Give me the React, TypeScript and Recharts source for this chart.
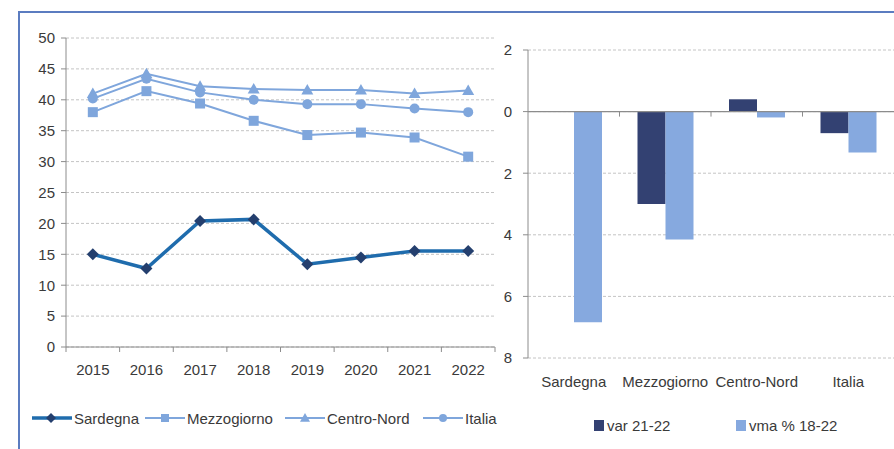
import React from "react";
import { Bar, BarChart, CartesianGrid, Line, LineChart, ReferenceLine, XAxis, YAxis } from "recharts";

const years = ["2015", "2016", "2017", "2018", "2019", "2020", "2021", "2022"];
const sardegna = [15.0, 12.7, 20.4, 20.65, 13.4, 14.5, 15.55, 15.55];
const mezzogiorno = [38.0, 41.4, 39.4, 36.6, 34.3, 34.7, 33.9, 30.8];
const centroNord = [41.0, 44.2, 42.2, 41.75, 41.6, 41.6, 41.0, 41.5];
const italia = [40.2, 43.4, 41.2, 40.0, 39.3, 39.3, 38.6, 38.0];
const leftTicks = [0, 5, 10, 15, 20, 25, 30, 35, 40, 45, 50];

const regions = ["Sardegna", "Mezzogiorno", "Centro-Nord", "Italia"];
const var2122 = [0, -3.0, 0.4, -0.7];
const vma1822 = [-6.84, -4.15, -0.19, -1.33];
const rightTicks = [2, 0, -2, -4, -6, -8];

const FONT = "'Liberation Sans', Arial, sans-serif";
const TEXT = "#3a3a3a";
const GRID = "#c4c4c4";
const AXIS = "#8c8c8c";
const DARK_LINE = "#1f6cad";
const DARK_MARK = "#243f6e";
const LIGHT = "#7fa6dc";
const BAR_DARK = "#334172";
const BAR_LIGHT = "#86a9df";

// left chart layout
const L_W = 510;
const L_H = 449;
const L_LEFT = 66;
const L_RIGHT = 15;
const L_TOP = 38;
const L_XH = 30;
const L_BOTTOM = 72;
const L_AXIS_Y = L_H - L_BOTTOM - L_XH;
const L_BAND = (L_W - L_LEFT - L_RIGHT) / years.length;

// right chart layout
const R_X = 470;
const R_W = 424;
const R_H = 449;
const R_YW = 58;
const R_TOP = 50;
const R_XH = 40;
const R_BOTTOM = 51;
const R_PLOT_H = R_H - R_TOP - R_XH - R_BOTTOM;
const R_BAND = (R_W - R_YW) / regions.length;
const R_ZERO_Y = R_TOP + (2 / 10) * R_PLOT_H;

const lineData = years.map((y, i) => ({
  year: y,
  sardegna: sardegna[i],
  mezzogiorno: mezzogiorno[i],
  centroNord: centroNord[i],
  italia: italia[i],
}));

const barData = regions.map((r, i) => ({ region: r, var2122: var2122[i], vma1822: vma1822[i] }));

function Diamond({ cx, cy, fill, size = 6 }: any) {
  if (cx == null || cy == null) return null;
  return <path d={`M${cx},${cy - size}L${cx + size},${cy}L${cx},${cy + size}L${cx - size},${cy}Z`} fill={fill} />;
}
function Square({ cx, cy, fill, size = 5 }: any) {
  if (cx == null || cy == null) return null;
  return <rect x={cx - size} y={cy - size} width={size * 2} height={size * 2} fill={fill} />;
}
function Triangle({ cx, cy, fill, size = 6 }: any) {
  if (cx == null || cy == null) return null;
  return <path d={`M${cx},${cy - size}L${cx + size},${cy + size * 0.75}L${cx - size},${cy + size * 0.75}Z`} fill={fill} />;
}
function Circle({ cx, cy, fill, size = 5 }: any) {
  if (cx == null || cy == null) return null;
  return <circle cx={cx} cy={cy} r={size} fill={fill} />;
}

function YearTick({ x, payload, index }: any) {
  const last = index === years.length - 1;
  return (
    <g>
      <line x1={x - L_BAND / 2} x2={x - L_BAND / 2} y1={L_AXIS_Y} y2={L_AXIS_Y + 5} stroke={AXIS} />
      {last ? <line x1={x + L_BAND / 2} x2={x + L_BAND / 2} y1={L_AXIS_Y} y2={L_AXIS_Y + 5} stroke={AXIS} /> : null}
      <text x={x} y={375} textAnchor="middle" fill={TEXT} fontSize={15} fontFamily={FONT}>
        {payload.value}
      </text>
    </g>
  );
}

function RegionTick({ x, payload, index }: any) {
  return (
    <g>
      {index > 0 ? (
        <line x1={x - R_BAND / 2} x2={x - R_BAND / 2} y1={R_ZERO_Y} y2={R_ZERO_Y + 5} stroke={AXIS} />
      ) : null}
      <text x={x} y={387} textAnchor="middle" fill={TEXT} fontSize={15} fontFamily={FONT}>
        {payload.value}
      </text>
    </g>
  );
}

function LegendLine({ x, label, color, width, marker }: any) {
  return (
    <div style={{ position: "absolute", left: x, top: 408, height: 20, display: "flex", alignItems: "center" }}>
      <svg width={40} height={20}>
        <line x1={0} x2={40} y1={10} y2={10} stroke={color} strokeWidth={width} />
        {marker}
      </svg>
      <span style={{ marginLeft: 2, fontSize: 15, color: TEXT, fontFamily: FONT }}>{label}</span>
    </div>
  );
}

export default function App() {
  return (
    <div style={{ position: "absolute", left: 0, top: 0, width: 894, height: 449, background: "#fff", overflow: "hidden", fontFamily: FONT }}>
      <div style={{ position: "absolute", left: 18, top: 11, width: 876, height: 2, background: "#5b7cc0" }} />
      <div style={{ position: "absolute", left: 18, top: 11, width: 2, height: 438, background: "#5b7cc0" }} />

      <div style={{ position: "absolute", left: 0, top: 0 }}>
        <LineChart width={L_W} height={L_H} data={lineData} margin={{ top: L_TOP, right: L_RIGHT, left: 0, bottom: L_BOTTOM }}>
          <CartesianGrid stroke={GRID} strokeDasharray="3 2" vertical={false} />
          <XAxis
            dataKey="year"
            scale="band"
            height={L_XH}
            stroke={AXIS}
            tickLine={false}
            interval={0}
            tick={<YearTick />}
          />
          <YAxis
            width={L_LEFT}
            domain={[0, 50]}
            ticks={leftTicks}
            interval={0}
            stroke={AXIS}
            tickSize={5}
            tickMargin={6}
            tick={{ fill: TEXT, fontSize: 15, fontFamily: FONT }}
          />
          <Line dataKey="mezzogiorno" stroke={LIGHT} strokeWidth={2} isAnimationActive={false}
            dot={(p: any) => <Square key={`m${p.index}`} cx={p.cx} cy={p.cy} fill={LIGHT} />} />
          <Line dataKey="centroNord" stroke={LIGHT} strokeWidth={2} isAnimationActive={false}
            dot={(p: any) => <Triangle key={`c${p.index}`} cx={p.cx} cy={p.cy} fill={LIGHT} />} />
          <Line dataKey="italia" stroke={LIGHT} strokeWidth={2} isAnimationActive={false}
            dot={(p: any) => <Circle key={`i${p.index}`} cx={p.cx} cy={p.cy} fill={LIGHT} />} />
          <Line dataKey="sardegna" stroke={DARK_LINE} strokeWidth={3.5} isAnimationActive={false}
            dot={(p: any) => <Diamond key={`s${p.index}`} cx={p.cx} cy={p.cy} fill={DARK_MARK} />} />
        </LineChart>
      </div>

      <LegendLine x={32} label="Sardegna" color={DARK_LINE} width={3.5} marker={<Diamond cx={19} cy={10} fill={DARK_MARK} size={5} />} />
      <LegendLine x={145} label="Mezzogiorno" color={LIGHT} width={2} marker={<Square cx={20} cy={10} fill={LIGHT} size={4} />} />
      <LegendLine x={285} label="Centro-Nord" color={LIGHT} width={2} marker={<Triangle cx={20} cy={10} fill={LIGHT} size={5} />} />
      <LegendLine x={423} label="Italia" color={LIGHT} width={2} marker={<Circle cx={20} cy={10} fill={LIGHT} size={4} />} />

      <div style={{ position: "absolute", left: R_X, top: 0 }}>
        <BarChart width={R_W} height={R_H} data={barData} barSize={28} barGap={0}
          margin={{ top: R_TOP, right: 0, left: 0, bottom: R_BOTTOM }}>
          <CartesianGrid stroke={GRID} strokeDasharray="3 2" vertical={false} />
          <XAxis dataKey="region" height={R_XH} axisLine={false} tickLine={false} interval={0} tick={<RegionTick />} />
          <YAxis
            width={R_YW}
            domain={[-8, 2]}
            ticks={rightTicks}
            interval={0}
            stroke={AXIS}
            tickSize={5}
            tickMargin={11}
            tickFormatter={(v: number) => String(Math.abs(v))}
            tick={{ fill: TEXT, fontSize: 15, fontFamily: FONT }}
          />
          <ReferenceLine y={0} stroke={AXIS} strokeWidth={1.2} />
          <Bar dataKey="var2122" fill={BAR_DARK} isAnimationActive={false} />
          <Bar dataKey="vma1822" fill={BAR_LIGHT} isAnimationActive={false} />
        </BarChart>
      </div>

      <div style={{ position: "absolute", left: 594, top: 417, display: "flex", alignItems: "center", fontSize: 15, color: TEXT }}>
        <span style={{ display: "inline-block", width: 10, height: 11, background: BAR_DARK, marginRight: 3 }} />
        var 21-22
      </div>
      <div style={{ position: "absolute", left: 736, top: 417, display: "flex", alignItems: "center", fontSize: 15, color: TEXT }}>
        <span style={{ display: "inline-block", width: 10, height: 11, background: BAR_LIGHT, marginRight: 3 }} />
        vma % 18-22
      </div>
    </div>
  );
}
